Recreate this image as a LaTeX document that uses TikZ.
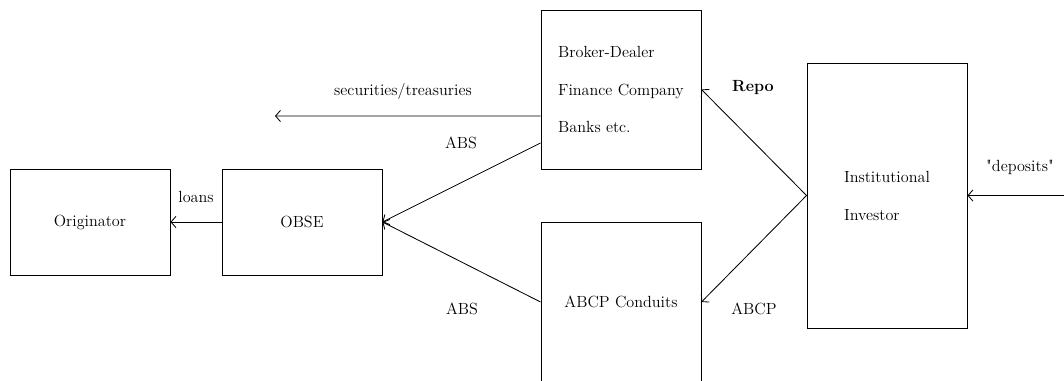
\documentclass[tikz,border=0pt]{standalone}
\usepackage{amsmath}
\usepackage{tikz}
\usetikzlibrary{calc, arrows.meta}

\begin{document}
\begin{tikzpicture}[
    box/.style={draw, line width=0.65pt, inner sep=0pt},
    flow/.style={-{Straight Barb[length=3.5pt,width=8pt]}, line width=0.6pt},
    every node/.style={font=\fontsize{11.5}{13}\selectfont}
  ]
  \useasboundingbox (0,0) rectangle (26.6,-9.525);

  % Draw the boxes
  \node[box, minimum width=4cm, minimum height=2.65cm] (orig) at (2.25,-5.55) {Originator};
  \node[box, minimum width=4cm, minimum height=2.65cm] (obse) at (7.55,-5.55) {OBSE};
  \node[box, minimum width=4cm, minimum height=3.975cm, align=left] (broker) at (15.525,-2.2375)
    {Broker-Dealer\\[14pt] Finance Company\\[14pt] Banks etc.};
  \node[box, minimum width=4cm, minimum height=4cm] (abcp) at (15.525,-7.55) {ABCP Conduits};
  \node[box, minimum width=4cm, minimum height=6.625cm, align=left] (inst) at (22.175,-4.8875)
    {Institutional\\[14pt] Investor};

  % Free ends
  \coordinate (sec) at (6.875,-2.9);
  \coordinate (dep) at (26.6,-4.8875);

  % Draw the flows
  \draw[flow] (obse) -- (orig);
  \draw[flow] ([yshift=-0.6625cm]broker.west) -- (sec);
  \draw[flow] ([yshift=-1.3375cm]broker.west) -- (obse.east);
  \draw[flow] (abcp.west) -- (obse.east);
  \draw[flow] (inst.west) -- (broker.east);
  \draw[flow] (inst.west) -- (abcp.east);
  \draw[flow] (dep) -- (inst.east);

  % Label the flows
  \node (lloans) at (4.9,-4.925) {loans};
  \node (lsec) at (10.075,-2.275) {securities/treasuries};
  \node (labsup) at (11.525,-3.575) {ABS};
  \node (labslow) at (11.55,-7.725) {ABS};
  \node[font=\fontsize{11.5}{13}\selectfont\bfseries] (lrepo) at (18.825,-2.2) {Repo};
  \node (labcp) at (18.85,-7.725) {ABCP};
  \node (ldep) at (25.5,-4.175) {\textquotedbl deposits\textquotedbl};
\end{tikzpicture}
\end{document}
